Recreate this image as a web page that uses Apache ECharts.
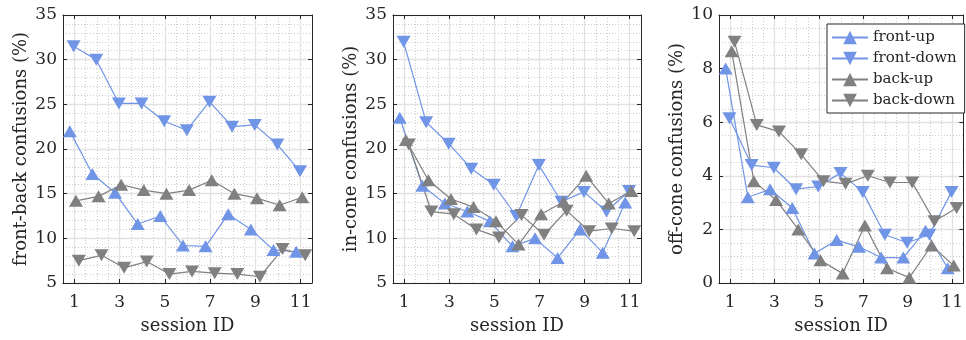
<!DOCTYPE html>
<html>
<head>
<meta charset="utf-8">
<script src="https://cdn.jsdelivr.net/npm/echarts@6/dist/echarts.min.js"></script>
<style>
  html, body { margin: 0; padding: 0; background: #fff; }
  #chart { width: 966px; height: 340px; }
</style>
</head>
<body>
<div id="chart"></div>
<script>
const sessions = [1, 2, 3, 4, 5, 6, 7, 8, 9, 10, 11]
const sessionTicks = [1, 3, 5, 7, 9, 11]
const seriesNames = ['front-up', 'front-down', 'back-up', 'back-down']

// front-back confusions (%)
const fbFrontUp = [22.0, 17.2, 15.1, 11.6, 12.5, 9.2, 9.1, 12.7, 11.0, 8.7, 8.5]
const fbFrontDown = [31.5, 30.0, 25.1, 25.1, 23.1, 22.1, 25.3, 22.5, 22.7, 20.5, 17.5]
const fbBackUp = [14.2, 14.7, 16.0, 15.4, 15.0, 15.4, 16.5, 15.0, 14.5, 13.7, 14.6]
const fbBackDown = [7.5, 8.1, 6.7, 7.4, 6.0, 6.3, 6.1, 6.0, 5.7, 8.8, 8.1]

// in-cone confusions (%)
const icFrontUp = [23.5, 15.9, 13.9, 13.0, 11.9, 9.1, 10.0, 7.8, 11.0, 8.4, 14.0]
const icFrontDown = [32.0, 23.0, 20.6, 17.8, 16.0, 12.5, 18.2, 14.1, 15.2, 13.0, 15.3]
const icBackUp = [21.0, 16.5, 14.4, 13.5, 11.9, 9.3, 12.7, 14.1, 17.0, 13.9, 15.3]
const icBackDown = [20.5, 13.0, 12.7, 11.0, 10.1, 12.6, 10.4, 13.1, 10.8, 11.1, 10.8]

// off-cone confusions (%)
const ocFrontUp = [8.0, 3.2, 3.5, 2.8, 1.1, 1.6, 1.35, 0.95, 0.95, 1.95, 0.55]
const ocFrontDown = [6.15, 4.4, 4.3, 3.5, 3.6, 4.1, 3.4, 1.8, 1.5, 1.8, 3.4]
const ocBackUp = [8.65, 3.8, 3.1, 2.0, 0.85, 0.35, 2.15, 0.55, 0.2, 1.4, 0.65]
const ocBackDown = [9.0, 5.9, 5.65, 4.8, 3.8, 3.7, 4.0, 3.75, 3.75, 2.3, 2.8]

// small horizontal shift of each group so markers don't sit on each other
const xShift = [-0.2, -0.03, 0.07, 0.2]

const blue = '#7094e6'
const gray = '#808080'
const ink = '#262626'
const font = 'DejaVu Serif'

const panels = [
  { left: 63, width: 249, min: 5, max: 35, interval: 5, minor: 5,
    name: 'front-back confusions (%)', values: [fbFrontUp, fbFrontDown, fbBackUp, fbBackDown] },
  { left: 393, width: 248, min: 5, max: 35, interval: 5, minor: 5,
    name: 'in-cone confusions (%)', values: [icFrontUp, icFrontDown, icBackUp, icBackDown] },
  { left: 719, width: 246, min: 0, max: 10, interval: 2, minor: 4,
    name: 'off-cone confusions (%)', values: [ocFrontUp, ocFrontDown, ocBackUp, ocBackDown] }
]

const grid = []
const xAxis = []
const yAxis = []
const series = []

panels.forEach((p, i) => {
  grid.push({ left: p.left, width: p.width, top: 15, height: 268 })

  // data axis, dotted minor grid every half session
  xAxis.push({
    gridIndex: i, type: 'value', min: 0.5, max: 11.5, interval: 0.5, z: 0,
    axisLine: { show: false }, axisTick: { show: false }, axisLabel: { show: false },
    splitLine: { show: true, lineStyle: { color: '#cccccc', type: [1, 2], width: 1 } }
  })
  // labelled axis, ticks on odd sessions
  xAxis.push({
    gridIndex: i, type: 'value', position: 'bottom', min: 0.5, max: 11.5, z: 1,
    axisLine: { show: true, onZero: false, lineStyle: { color: ink, width: 1 } },
    axisTick: { show: true, inside: true, length: 4, customValues: sessionTicks, lineStyle: { color: ink } },
    axisLabel: { customValues: sessionTicks, fontFamily: font, fontSize: 17, color: ink, margin: 11 },
    splitLine: { show: true, lineStyle: { color: '#e2e2e2', width: 1.3 } },
    name: 'session ID', nameLocation: 'middle', nameGap: 34,
    nameTextStyle: { fontFamily: font, fontSize: 18, color: ink }
  })
  // top frame with inner ticks
  xAxis.push({
    gridIndex: i, type: 'value', position: 'top', min: 0.5, max: 11.5, z: 1,
    axisLine: { show: true, onZero: false, lineStyle: { color: ink, width: 1 } },
    axisTick: { show: true, inside: true, length: 4, customValues: sessionTicks, lineStyle: { color: ink } },
    axisLabel: { show: false, customValues: sessionTicks }, splitLine: { show: false }
  })

  yAxis.push({
    gridIndex: i, type: 'value', position: 'left', min: p.min, max: p.max, interval: p.interval, z: 1,
    axisLine: { show: true, onZero: false, lineStyle: { color: ink, width: 1 } },
    axisTick: { show: true, inside: true, length: 4, lineStyle: { color: ink } },
    axisLabel: { fontFamily: font, fontSize: 17, color: ink, margin: 6 },
    splitLine: { show: true, lineStyle: { color: '#e2e2e2', width: 1.3 } },
    minorTick: { show: false, splitNumber: p.minor },
    minorSplitLine: { show: true, lineStyle: { color: '#cccccc', type: [1, 2], width: 1 } },
    name: p.name, nameLocation: 'middle', nameGap: 33,
    nameTextStyle: { fontFamily: font, fontSize: 18, color: ink }
  })
  yAxis.push({
    gridIndex: i, type: 'value', position: 'right', min: p.min, max: p.max, interval: p.interval, z: 1,
    axisLine: { show: true, onZero: false, lineStyle: { color: ink, width: 1 } },
    axisTick: { show: true, inside: true, length: 4, lineStyle: { color: ink } },
    axisLabel: { show: false }, splitLine: { show: false }
  })

  p.values.forEach((vals, k) => {
    const color = k < 2 ? blue : gray
    series.push({
      name: seriesNames[k],
      type: 'line',
      xAxisIndex: i * 3,
      yAxisIndex: i * 2,
      data: sessions.map((s, j) => [s + xShift[k], vals[j]]),
      symbol: 'triangle',
      symbolSize: [14, 12],
      symbolRotate: k % 2 === 1 ? 180 : 0,
      showAllSymbol: true,
      lineStyle: { color: color, width: 1.2 },
      itemStyle: { color: color, borderWidth: 0 },
      clip: false,
      z: 3
    })
  })
})

const chart = echarts.init(document.getElementById('chart'))
chart.setOption({
  animation: false,
  backgroundColor: '#ffffff',
  grid: grid,
  xAxis: xAxis,
  yAxis: yAxis,
  legend: {
    data: seriesNames,
    orient: 'vertical',
    left: 827,
    top: 24,
    itemWidth: 36,
    itemHeight: 17,
    itemGap: 6,
    padding: [6, 8, 5, 4],
    backgroundColor: '#ffffff',
    borderColor: ink,
    borderWidth: 1,
    borderRadius: 0,
    textStyle: { fontFamily: font, fontSize: 15, color: ink }
  },
  series: series
})
</script>
</body>
</html>
